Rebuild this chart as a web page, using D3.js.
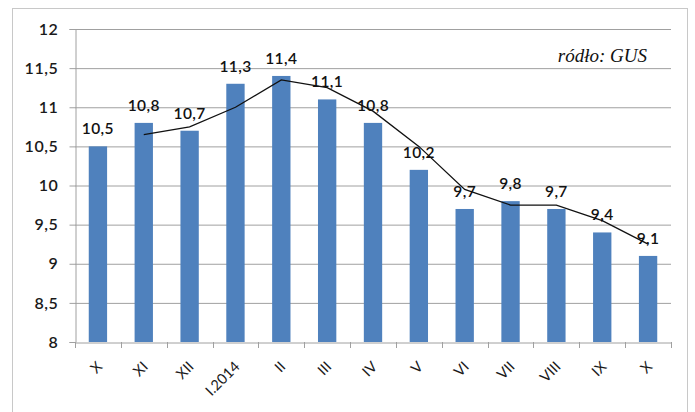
<!DOCTYPE html>
<html><head><meta charset="utf-8">
<script src="https://cdn.jsdelivr.net/npm/d3@7"></script>
<style>body{margin:0;background:#fff}svg{display:block}</style>
</head><body>
<svg id="c" width="695" height="412"></svg>
<script>
const categories = ["X","XI","XII","I.2014","II","III","IV","V","VI","VII","VIII","IX","X "];
const values = [10.5,10.8,10.7,11.3,11.4,11.1,10.8,10.2,9.7,9.8,9.7,9.4,9.1];
const trend = [null,10.65,10.75,11.0,11.35,11.25,10.95,10.5,9.95,9.75,9.75,9.55,9.25];
const yTicks = [8,8.5,9,9.5,10,10.5,11,11.5,12];
const source = "ródło: GUS";

const svg = d3.select("#c");
const L = 75, R = 671, T = 29, B = 342;
const fmt = v => String(v).replace(".", ",");
const font = "Lato, 'Open Sans', sans-serif";

svg.append("rect").attr("x",12.5).attr("y",8.5).attr("width",675).attr("height",410)
  .attr("fill","#fff").attr("stroke","#c8c8c8");

const x = d3.scaleBand().domain(categories).range([L,R]).paddingInner(0.6).paddingOuter(0.3);
const xb = d3.scaleBand().domain(categories).range([L,R]);
const y = d3.scaleLinear().domain([8,12]).range([B,T]);

// gridlines
svg.append("g").selectAll("line").data(yTicks.slice(1)).join("line")
  .attr("x1",L).attr("x2",R).attr("y1",d=>y(d)+0.5).attr("y2",d=>y(d)+0.5)
  .attr("stroke","#a0a0a0").attr("stroke-width",1);

// y axis
const ya = svg.append("g").attr("transform",`translate(${L+0.5},0)`)
  .call(d3.axisLeft(y).tickValues(yTicks).tickFormat(fmt).tickSize(6).tickPadding(11));
ya.select(".domain").attr("stroke","#a0a0a0");
ya.selectAll(".tick line").attr("stroke","#a0a0a0");
ya.selectAll("text").attr("font-family",font).attr("font-size",16).attr("font-weight",600)
  .attr("letter-spacing",0.6).attr("fill","#1a1a1a");

// bars
svg.append("g").selectAll("rect").data(values).join("rect")
  .attr("x",(d,i)=>x(categories[i])).attr("width",x.bandwidth())
  .attr("y",d=>y(d)).attr("height",d=>y(8)-y(d)).attr("fill","#4F81BD");

// x axis
const xa = svg.append("g").attr("transform",`translate(0,${B+0.5})`)
  .call(d3.axisBottom(xb).tickSize(0).tickFormat(d=>d.trim()));
xa.select(".domain").attr("stroke","#a0a0a0");
xa.selectAll("text").attr("font-family",font).attr("font-size",14.5).attr("fill","#1a1a1a")
  .attr("text-anchor","end").attr("dy",0)
  .attr("transform","translate(3,23) rotate(-45)");
svg.append("g").selectAll("line").data(categories.concat(["_end"])).join("line")
  .attr("x1",(d,i)=>Math.round(L+i*xb.bandwidth())+0.5).attr("x2",(d,i)=>Math.round(L+i*xb.bandwidth())+0.5)
  .attr("y1",B).attr("y2",B+6).attr("stroke","#a0a0a0");

// trend line
const line = d3.line().defined(d=>d!=null)
  .x((d,i)=>xb(categories[i])+xb.bandwidth()/2).y(d=>y(d));
svg.append("path").datum(trend).attr("d",line).attr("fill","none")
  .attr("stroke","#111").attr("stroke-width",1.3);

// data labels
svg.append("g").selectAll("text").data(values).join("text")
  .attr("x",(d,i)=>xb(categories[i])+xb.bandwidth()/2).attr("y",d=>y(d)-12)
  .attr("text-anchor","middle").attr("font-family",font).attr("font-size",15.5)
  .attr("font-weight",600).attr("letter-spacing",0.4)
  .attr("fill","#111").text(fmt);

svg.append("text").attr("x",647).attr("y",62).attr("text-anchor","end")
  .attr("font-family","'Liberation Serif', serif").attr("font-style","italic")
  .attr("font-size",19).attr("fill","#111").text(source);
</script>
</body></html>
